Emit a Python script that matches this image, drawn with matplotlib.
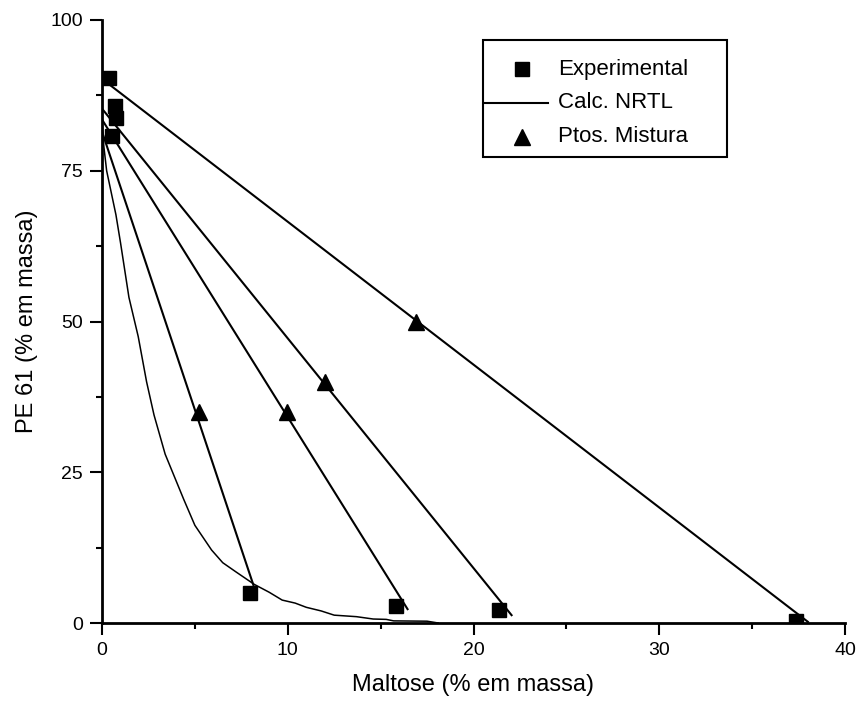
import matplotlib
matplotlib.use("Agg")
import matplotlib.pyplot as plt
from matplotlib.patches import Rectangle
from matplotlib.ticker import MultipleLocator

plt.rcParams['font.family'] = ['Liberation Sans', 'DejaVu Sans']

# binodal curve (NRTL)
binodal_x = [0.0, 0.1, 0.25, 0.75, 1.0, 1.45, 1.95, 2.4, 2.8, 3.4, 4.4, 5.0, 5.9, 6.5,
             7.2, 8.2, 9.0, 9.7, 10.4, 11.0, 11.8, 12.5, 13.7, 14.6, 15.3, 15.7, 17.5, 18.1]
binodal_y = [83.0, 79.0, 75.0, 67.7, 63.0, 54.0, 47.5, 40.0, 34.5, 28.0, 20.5, 16.2, 12.1, 10.0,
             8.5, 6.4, 5.1, 3.8, 3.3, 2.6, 2.0, 1.3, 1.05, 0.66, 0.6, 0.35, 0.3, 0.0]

# calculated tie lines: top phase -> bottom phase
tie_top_x = [0.0, 0.0, 0.0, 0.1]
tie_top_y = [81.5, 83.5, 85.3, 90.0]
tie_bot_x = [8.15, 16.45, 22.05, 38.0]
tie_bot_y = [6.3, 2.3, 1.3, 0.2]

# experimental phase compositions
exp_x = [0.40, 0.70, 0.75, 0.52, 7.95, 15.85, 21.35, 37.35]
exp_y = [90.4, 85.8, 83.7, 80.8, 5.0, 2.9, 2.15, 0.4]

# mixture points
mix_x = [5.2, 9.95, 12.0, 16.9]
mix_y = [35.0, 35.0, 40.0, 50.0]

legend_labels = ["Experimental", "Calc. NRTL", "Ptos. Mistura"]

fig = plt.figure(figsize=(8.56, 7.06), dpi=100)
ax = fig.add_axes([102 / 856, 83 / 706, 743 / 856, 603 / 706])

ax.plot(binodal_x, binodal_y, color='black', lw=1.1, zorder=2)
for x0, y0, x1, y1 in zip(tie_top_x, tie_top_y, tie_bot_x, tie_bot_y):
    ax.plot([x0, x1], [y0, y1], color='black', lw=1.5, zorder=2)
ax.plot(exp_x, exp_y, 's', color='black', ms=10, zorder=3)
ax.plot(mix_x, mix_y, '^', color='black', ms=11, zorder=3)

ax.set_xlim(0, 40)
ax.set_ylim(0, 100)
ax.xaxis.set_major_locator(MultipleLocator(10))
ax.xaxis.set_minor_locator(MultipleLocator(5))
ax.yaxis.set_major_locator(MultipleLocator(25))
ax.yaxis.set_minor_locator(MultipleLocator(12.5))
ax.tick_params(which='major', direction='out', length=8.5, width=1.5, labelsize=14, pad=5)
ax.tick_params(which='minor', direction='out', length=4.5, width=1.5)
for side in ['top', 'right']:
    ax.spines[side].set_visible(False)
for side in ['left', 'bottom']:
    ax.spines[side].set_linewidth(2)

ax.set_xlabel("Maltose (% em massa)", fontsize=17, labelpad=11)
ax.set_ylabel("PE 61 (% em massa)", fontsize=17, labelpad=9)

# legend box drawn in axes fraction
bx0, bx1, by0, by1 = 0.5128, 0.8412, 0.7728, 0.9668
ax.add_patch(Rectangle((bx0, by0), bx1 - bx0, by1 - by0, transform=ax.transAxes,
                       fill=False, edgecolor='black', lw=1.5, zorder=4))
rows = [0.9187, 0.8624, 0.8060]
ax.plot([0.5653], [rows[0]], 's', color='black', ms=10, transform=ax.transAxes, clip_on=False)
ax.plot([0.5155, 0.6003], [rows[1], rows[1]], color='black', lw=1.5, transform=ax.transAxes, clip_on=False)
ax.plot([0.5649], [rows[2]], '^', color='black', ms=11, transform=ax.transAxes, clip_on=False)
for lab, ry in zip(legend_labels, rows):
    ax.text(0.6137, ry, lab, transform=ax.transAxes, fontsize=16, va='center', ha='left')

fig.savefig("out.png", dpi=100)
